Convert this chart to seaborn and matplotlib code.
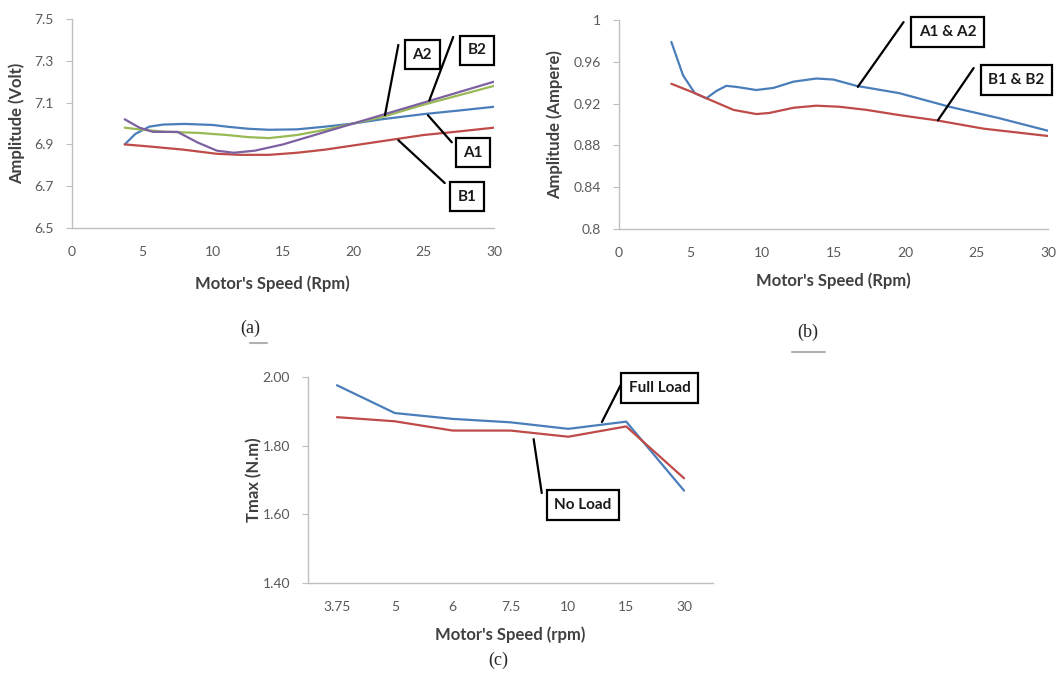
import matplotlib
matplotlib.use("Agg")
import matplotlib.pyplot as plt
import seaborn as sns

# ---- panel (a): voltage amplitude vs speed ----
a1_speed = [3.75, 4.5, 5.5, 6.5, 8, 10, 11, 12.5, 14, 16, 18, 20, 22, 25, 27.5, 30]
a1_volt = [6.90, 6.95, 6.985, 6.995, 6.998, 6.993, 6.985, 6.975, 6.97, 6.972, 6.985, 7.0, 7.02, 7.045, 7.062, 7.08]
b1_speed = [3.75, 5.5, 7.9, 10.3, 12, 14, 16, 18, 20, 23, 25, 27.5, 30]
b1_volt = [6.90, 6.89, 6.875, 6.855, 6.85, 6.85, 6.86, 6.875, 6.895, 6.925, 6.945, 6.962, 6.98]
a2_speed = [3.75, 5, 6.75, 9, 11, 12.5, 14, 16, 18, 20, 22, 25, 27.5, 30]
a2_volt = [6.98, 6.97, 6.96, 6.955, 6.945, 6.935, 6.93, 6.945, 6.97, 7.0, 7.03, 7.09, 7.135, 7.18]
b2_speed = [3.75, 4.8, 5.75, 7.5, 8.9, 10.3, 11.5, 13, 15, 17, 20, 22, 25, 27.5, 30]
b2_volt = [7.02, 6.98, 6.96, 6.96, 6.91, 6.87, 6.86, 6.87, 6.90, 6.94, 7.0, 7.04, 7.10, 7.15, 7.20]

# ---- panel (b): current amplitude vs speed ----
ia_speed = [3.66, 4.48, 5.3, 6.1, 6.8, 7.5, 8.2, 9.6, 10.8, 12.2, 13.8, 15, 16.6, 19.6, 23.1, 26.6, 30]
ia_amp = [0.979, 0.947, 0.930, 0.925, 0.932, 0.937, 0.936, 0.933, 0.935, 0.941, 0.944, 0.943, 0.937, 0.930, 0.917, 0.906, 0.894]
ib_speed = [3.66, 5.3, 6.3, 8.0, 9.6, 10.5, 12.2, 13.8, 15.4, 17.3, 19.6, 22.2, 25.5, 30]
ib_amp = [0.939, 0.930, 0.924, 0.914, 0.910, 0.911, 0.916, 0.918, 0.917, 0.914, 0.909, 0.904, 0.896, 0.889]

# ---- panel (c): max torque per speed ----
speed_labels = ["3.75", "5", "6", "7.5", "10", "15", "30"]
full_load = [1.976, 1.895, 1.878, 1.868, 1.849, 1.870, 1.669]
no_load = [1.883, 1.871, 1.844, 1.844, 1.826, 1.856, 1.705]

BLUE, RED, GREEN, PURPLE = "#4a7ebb", "#be4b48", "#98b954", "#7d60a0"
TICK_C, LAB_C, SPINE_C = "#595959", "#404040", "#bfbfbf"

sns.set_style("white")
plt.rcParams["font.family"] = ["Lato", "DejaVu Sans"]

W, H = 1059, 675
fig = plt.figure(figsize=(W / 100, H / 100), dpi=100)


def style_axes(ax):
    sns.despine(ax=ax)
    for s in ("left", "bottom"):
        ax.spines[s].set_color(SPINE_C)
        ax.spines[s].set_linewidth(1.0)
    ax.tick_params(axis="y", length=4, width=0.8, color=SPINE_C, pad=9,
                   labelsize=10, labelcolor=TICK_C, left=True)
    ax.tick_params(axis="x", length=0, pad=13, labelsize=10, labelcolor=TICK_C)
    ax.grid(False)


def box_label(ax, text, xy_box, start, end):
    ax.annotate("", xy=end, xytext=start,
                arrowprops=dict(arrowstyle="-", color="black", lw=1.6,
                                shrinkA=0, shrinkB=0),
                annotation_clip=False)
    ax.text(xy_box[0], xy_box[1], text, ha="center", va="center",
            fontsize=11, fontweight="bold", color="#1a1a1a", clip_on=False,
            bbox=dict(boxstyle="square,pad=0.5", fc="white", ec="black", lw=1.6))


# (a)
ax_a = fig.add_axes([72 / W, 1 - 228 / H, 422 / W, 209 / H])
for xs, ys, c in [(a1_speed, a1_volt, BLUE), (b1_speed, b1_volt, RED),
                  (a2_speed, a2_volt, GREEN), (b2_speed, b2_volt, PURPLE)]:
    sns.lineplot(x=xs, y=ys, ax=ax_a, color=c, lw=1.6, sort=False, estimator=None)
ax_a.set_xlim(0, 30)
ax_a.set_ylim(6.5, 7.5)
ax_a.set_xticks(range(0, 31, 5))
ax_a.set_yticks([6.5, 6.7, 6.9, 7.1, 7.3, 7.5])
ax_a.set_yticklabels(["6.5", "6.7", "6.9", "7.1", "7.3", "7.5"])
style_axes(ax_a)
ax_a.set_xlabel("Motor's Speed (Rpm)", fontsize=12, fontweight="bold", color=LAB_C)
ax_a.set_ylabel("Amplitude (Volt)", fontsize=12, fontweight="bold", color=LAB_C)
ax_a.xaxis.set_label_coords(0.476, -0.225)
ax_a.yaxis.set_label_coords(-0.111, 0.5)
box_label(ax_a, "A2", (24.9, 7.33), (23.2, 7.376), (22.25, 7.04))
box_label(ax_a, "B2", (28.8, 7.35), (27.1, 7.414), (25.4, 7.11))
box_label(ax_a, "A1", (28.5, 6.86), (27.0, 6.91), (25.3, 7.04))
box_label(ax_a, "B1", (28.1, 6.65), (26.5, 6.715), (23.2, 6.92))

# (b)
ax_b = fig.add_axes([619 / W, 1 - 229 / H, 429 / W, 209 / H])
sns.lineplot(x=ia_speed, y=ia_amp, ax=ax_b, color=BLUE, lw=1.6, sort=False, estimator=None)
sns.lineplot(x=ib_speed, y=ib_amp, ax=ax_b, color=RED, lw=1.6, sort=False, estimator=None)
ax_b.set_xlim(0, 30)
ax_b.set_ylim(0.8, 1.0)
ax_b.set_xticks(range(0, 31, 5))
ax_b.set_yticks([0.8, 0.84, 0.88, 0.92, 0.96, 1.0])
ax_b.set_yticklabels(["0.8", "0.84", "0.88", "0.92", "0.96", "1"])
style_axes(ax_b)
ax_b.set_xlabel("Motor's Speed (Rpm)", fontsize=12, fontweight="bold", color=LAB_C)
ax_b.set_ylabel("Amplitude (Ampere)", fontsize=12, fontweight="bold", color=LAB_C)
ax_b.xaxis.set_label_coords(0.499, -0.21)
ax_b.yaxis.set_label_coords(-0.13, 0.5)
box_label(ax_b, "A1 & A2", (23.0, 0.9885), (19.9, 0.998), (16.7, 0.936))
box_label(ax_b, "B1 & B2", (27.8, 0.9426), (24.8, 0.954), (22.3, 0.904))

# (c)
ax_c = fig.add_axes([308 / W, 1 - 583 / H, 405 / W, 206 / H])
sns.lineplot(x=speed_labels, y=full_load, ax=ax_c, color=BLUE, lw=1.6, sort=False)
sns.lineplot(x=speed_labels, y=no_load, ax=ax_c, color=RED, lw=1.6, sort=False)
ax_c.set_xlim(-0.5, len(speed_labels) - 0.5)
ax_c.set_ylim(1.4, 2.0)
ax_c.set_yticks([1.4, 1.6, 1.8, 2.0])
ax_c.set_yticklabels(["1.40", "1.60", "1.80", "2.00"])
style_axes(ax_c)
ax_c.set_xlabel("Motor's Speed (rpm)", fontsize=12, fontweight="bold", color=LAB_C)
ax_c.set_ylabel("Tmax (N.m)", fontsize=12, fontweight="bold", color=LAB_C)
ax_c.xaxis.set_label_coords(0.499, -0.209)
ax_c.yaxis.set_label_coords(-0.114, 0.5)
box_label(ax_c, "Full Load", (5.58, 1.968), (4.93, 1.985), (4.58, 1.869))
box_label(ax_c, "No Load", (4.25, 1.627), (3.54, 1.662), (3.40, 1.819))

# sub-figure captions
cap = dict(family=["Liberation Serif", "DejaVu Serif"], fontsize=13, ha="center", va="center")
fig.text(250 / W, 1 - 328 / H, "(a)", **cap)
fig.text(808 / W, 1 - 332 / H, "(b)", **cap)
fig.text(498 / W, 1 - 660 / H, "(c)", **cap)
fig.add_artist(plt.Line2D([250 / W, 267 / W], [1 - 343 / H] * 2, color="#b0b0b0", lw=1.5))
fig.add_artist(plt.Line2D([792 / W, 825 / W], [1 - 352 / H] * 2, color="#b0b0b0", lw=1.5))

fig.savefig("out.png", dpi=100)
